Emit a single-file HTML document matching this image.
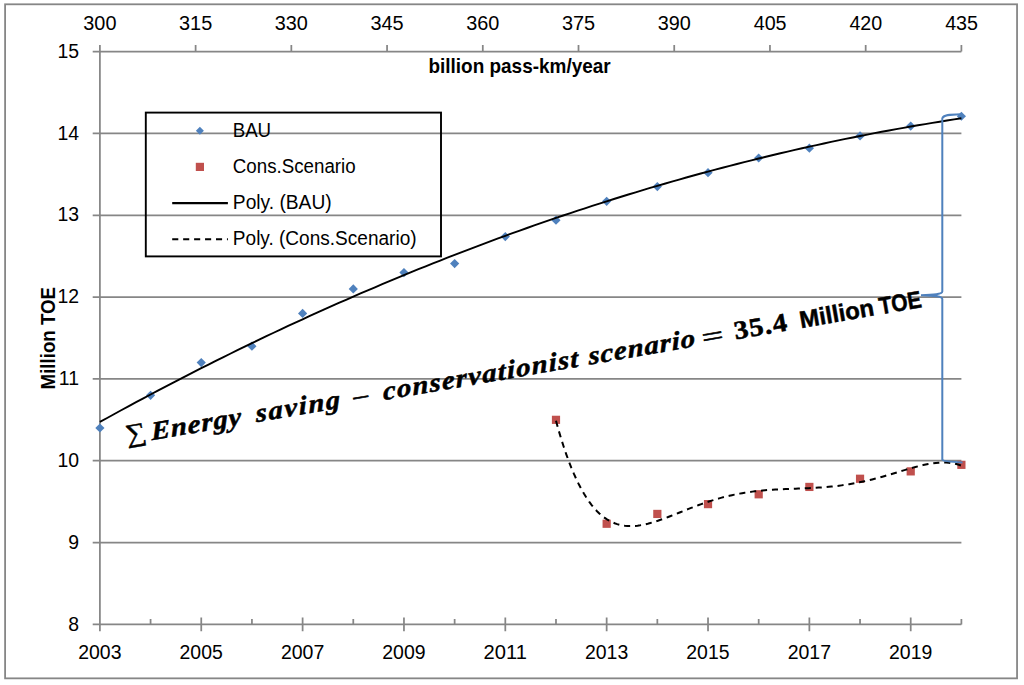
<!DOCTYPE html><html><head><meta charset="utf-8"><style>html,body{margin:0;padding:0;background:#fff;}svg{display:block;}.s{font-family:"Liberation Sans",sans-serif;}.f{font-family:"Liberation Serif",serif;font-weight:bold;font-style:italic;}.fb{font-family:"Liberation Serif",serif;font-weight:bold;}.r{font-family:"Liberation Serif",serif;}.b{font-family:"Liberation Sans",sans-serif;font-weight:bold;}</style></head><body>
<svg width="1024" height="685" viewBox="0 0 1024 685">
<rect x="0" y="0" width="1024" height="685" fill="#fff"/>
<rect x="5.1" y="4.3" width="1011.95" height="674.05" fill="none" stroke="#868686" stroke-width="1.8"/>
<path d="M92.70 624.40H961.40 M92.70 542.57H961.40 M92.70 460.74H961.40 M92.70 378.91H961.40 M92.70 297.09H961.40 M92.70 215.26H961.40 M92.70 133.43H961.40 M92.70 51.60H961.40 M99.90 45.00V631.20 M99.90 45.00V51.60 M195.62 45.00V51.60 M291.34 45.00V51.60 M387.07 45.00V51.60 M482.79 45.00V51.60 M578.51 45.00V51.60 M674.23 45.00V51.60 M769.96 45.00V51.60 M865.68 45.00V51.60 M961.40 45.00V51.60 M99.90 617.60V631.20 M150.58 618.90V624.40 M201.25 617.60V631.20 M251.93 618.90V624.40 M302.61 617.60V631.20 M353.28 618.90V624.40 M403.96 617.60V631.20 M454.64 618.90V624.40 M505.31 617.60V631.20 M555.99 618.90V624.40 M606.66 617.60V631.20 M657.34 618.90V624.40 M708.02 617.60V631.20 M758.69 618.90V624.40 M809.37 617.60V631.20 M860.05 618.90V624.40 M910.72 617.60V631.20 M961.40 618.90V624.40" stroke="#868686" stroke-width="1.75" fill="none"/>
<text class="s" x="83.34" y="30.00" font-size="19.4" textLength="33.13" lengthAdjust="spacingAndGlyphs">300</text>
<text class="s" x="179.06" y="30.00" font-size="19.4" textLength="33.19" lengthAdjust="spacingAndGlyphs">315</text>
<text class="s" x="274.79" y="30.00" font-size="19.4" textLength="33.13" lengthAdjust="spacingAndGlyphs">330</text>
<text class="s" x="370.51" y="30.00" font-size="19.4" textLength="33.19" lengthAdjust="spacingAndGlyphs">345</text>
<text class="s" x="466.23" y="30.00" font-size="19.4" textLength="33.13" lengthAdjust="spacingAndGlyphs">360</text>
<text class="s" x="561.95" y="30.00" font-size="19.4" textLength="33.19" lengthAdjust="spacingAndGlyphs">375</text>
<text class="s" x="657.68" y="30.00" font-size="19.4" textLength="33.13" lengthAdjust="spacingAndGlyphs">390</text>
<text class="s" x="753.70" y="30.00" font-size="19.4" textLength="32.88" lengthAdjust="spacingAndGlyphs">405</text>
<text class="s" x="849.43" y="30.00" font-size="19.4" textLength="32.82" lengthAdjust="spacingAndGlyphs">420</text>
<text class="s" x="945.15" y="30.00" font-size="19.4" textLength="32.88" lengthAdjust="spacingAndGlyphs">435</text>
<text class="s" x="78.22" y="658.80" font-size="19.4" textLength="43.23" lengthAdjust="spacingAndGlyphs">2003</text>
<text class="s" x="179.58" y="658.80" font-size="19.4" textLength="43.19" lengthAdjust="spacingAndGlyphs">2005</text>
<text class="s" x="280.93" y="658.80" font-size="19.4" textLength="43.36" lengthAdjust="spacingAndGlyphs">2007</text>
<text class="s" x="382.28" y="658.80" font-size="19.4" textLength="43.30" lengthAdjust="spacingAndGlyphs">2009</text>
<text class="s" x="483.63" y="658.80" font-size="19.4" textLength="43.33" lengthAdjust="spacingAndGlyphs">2011</text>
<text class="s" x="584.99" y="658.80" font-size="19.4" textLength="43.23" lengthAdjust="spacingAndGlyphs">2013</text>
<text class="s" x="686.34" y="658.80" font-size="19.4" textLength="43.19" lengthAdjust="spacingAndGlyphs">2015</text>
<text class="s" x="787.69" y="658.80" font-size="19.4" textLength="43.36" lengthAdjust="spacingAndGlyphs">2017</text>
<text class="s" x="889.04" y="658.80" font-size="19.4" textLength="43.30" lengthAdjust="spacingAndGlyphs">2019</text>
<text class="s" x="79.0" y="630.60" font-size="19.4" text-anchor="end">8</text>
<text class="s" x="79.0" y="548.77" font-size="19.4" text-anchor="end">9</text>
<text class="s" x="79.0" y="466.94" font-size="19.4" text-anchor="end">10</text>
<text class="s" x="79.0" y="385.11" font-size="19.4" text-anchor="end">11</text>
<text class="s" x="79.0" y="303.29" font-size="19.4" text-anchor="end">12</text>
<text class="s" x="79.0" y="221.46" font-size="19.4" text-anchor="end">13</text>
<text class="s" x="79.0" y="139.63" font-size="19.4" text-anchor="end">14</text>
<text class="s" x="79.0" y="57.80" font-size="19.4" text-anchor="end">15</text>
<text class="b" x="428.45" y="73.00" font-size="19.8" textLength="182.24" lengthAdjust="spacingAndGlyphs">billion pass-km/year</text>
<text class="b" transform="rotate(-90)" x="-389.45" y="55.0" font-size="19.8" textLength="102.47" lengthAdjust="spacingAndGlyphs">Million TOE</text>
<rect x="145.8" y="112.6" width="295.2" height="143.8" fill="none" stroke="#000" stroke-width="1.9"/>
<path d="M199.9 126.8L203.9 130.8L199.9 134.8L195.9 130.8Z" fill="#4F81BD"/>
<rect x="195.8" y="162.8" width="8.2" height="8.2" fill="#C0504D"/>
<path d="M172.2 203.1H227.9" stroke="#000" stroke-width="2.1"/>
<path d="M172.2 239.3H227.9" stroke="#000" stroke-width="2.1" stroke-dasharray="6.1 4.85"/>
<text class="s" x="232.66" y="137.00" font-size="19.4" textLength="38.48" lengthAdjust="spacingAndGlyphs">BAU</text>
<text class="s" x="232.85" y="173.00" font-size="19.4" textLength="122.84" lengthAdjust="spacingAndGlyphs">Cons.Scenario</text>
<text class="s" x="232.85" y="209.20" font-size="19.4" textLength="98.83" lengthAdjust="spacingAndGlyphs">Poly. (BAU)</text>
<text class="s" x="232.85" y="245.10" font-size="19.4" textLength="183.72" lengthAdjust="spacingAndGlyphs">Poly. (Cons.Scenario)</text>
<path d="M99.90 423.41L104.50 428.01L99.90 432.61L95.30 428.01Z" fill="#4F81BD"/>
<path d="M150.58 390.68L155.18 395.28L150.58 399.88L145.98 395.28Z" fill="#4F81BD"/>
<path d="M201.25 357.95L205.85 362.55L201.25 367.15L196.65 362.55Z" fill="#4F81BD"/>
<path d="M251.93 341.58L256.53 346.18L251.93 350.78L247.33 346.18Z" fill="#4F81BD"/>
<path d="M302.61 308.85L307.21 313.45L302.61 318.05L298.01 313.45Z" fill="#4F81BD"/>
<path d="M353.28 284.30L357.88 288.90L353.28 293.50L348.68 288.90Z" fill="#4F81BD"/>
<path d="M403.96 267.94L408.56 272.54L403.96 277.14L399.36 272.54Z" fill="#4F81BD"/>
<path d="M454.64 258.94L459.24 263.54L454.64 268.14L450.04 263.54Z" fill="#4F81BD"/>
<path d="M505.31 231.93L509.91 236.53L505.31 241.13L500.71 236.53Z" fill="#4F81BD"/>
<path d="M555.99 215.57L560.59 220.17L555.99 224.77L551.39 220.17Z" fill="#4F81BD"/>
<path d="M606.66 196.75L611.26 201.35L606.66 205.95L602.06 201.35Z" fill="#4F81BD"/>
<path d="M657.34 182.02L661.94 186.62L657.34 191.22L652.74 186.62Z" fill="#4F81BD"/>
<path d="M708.02 168.11L712.62 172.71L708.02 177.31L703.42 172.71Z" fill="#4F81BD"/>
<path d="M758.69 153.38L763.29 157.98L758.69 162.58L754.09 157.98Z" fill="#4F81BD"/>
<path d="M809.37 143.56L813.97 148.16L809.37 152.76L804.77 148.16Z" fill="#4F81BD"/>
<path d="M860.05 131.28L864.65 135.88L860.05 140.48L855.45 135.88Z" fill="#4F81BD"/>
<path d="M910.72 121.46L915.32 126.06L910.72 130.66L906.12 126.06Z" fill="#4F81BD"/>
<path d="M961.40 111.64L966.00 116.24L961.40 120.84L956.80 116.24Z" fill="#4F81BD"/>
<rect x="551.89" y="415.73" width="8.2" height="8.2" fill="#C0504D"/>
<rect x="602.56" y="519.65" width="8.2" height="8.2" fill="#C0504D"/>
<rect x="653.24" y="509.83" width="8.2" height="8.2" fill="#C0504D"/>
<rect x="703.92" y="500.01" width="8.2" height="8.2" fill="#C0504D"/>
<rect x="754.59" y="490.19" width="8.2" height="8.2" fill="#C0504D"/>
<rect x="805.27" y="482.83" width="8.2" height="8.2" fill="#C0504D"/>
<rect x="855.95" y="474.65" width="8.2" height="8.2" fill="#C0504D"/>
<rect x="906.62" y="467.28" width="8.2" height="8.2" fill="#C0504D"/>
<rect x="957.30" y="460.73" width="8.2" height="8.2" fill="#C0504D"/>
<polyline points="99.90,421.95 107.14,417.96 114.38,413.98 121.62,410.03 128.86,406.11 136.10,402.21 143.34,398.33 150.58,394.48 157.82,390.65 165.06,386.85 172.29,383.08 179.53,379.32 186.77,375.59 194.01,371.89 201.25,368.21 208.49,364.56 215.73,360.92 222.97,357.32 230.21,353.74 237.45,350.18 244.69,346.65 251.93,343.14 259.17,339.66 266.41,336.20 273.65,332.76 280.89,329.35 288.13,325.97 295.37,322.61 302.61,319.27 309.85,315.96 317.08,312.67 324.32,309.41 331.56,306.17 338.80,302.96 346.04,299.77 353.28,296.61 360.52,293.47 367.76,290.35 375.00,287.26 382.24,284.19 389.48,281.15 396.72,278.13 403.96,275.14 411.20,272.17 418.44,269.23 425.68,266.31 432.92,263.41 440.16,260.54 447.40,257.70 454.64,254.87 461.87,252.08 469.11,249.31 476.35,246.56 483.59,243.83 490.83,241.14 498.07,238.46 505.31,235.81 512.55,233.19 519.79,230.59 527.03,228.01 534.27,225.46 541.51,222.93 548.75,220.43 555.99,217.95 563.23,215.50 570.47,213.07 577.71,210.66 584.95,208.28 592.19,205.93 599.43,203.60 606.66,201.29 613.90,199.01 621.14,196.75 628.38,194.52 635.62,192.31 642.86,190.12 650.10,187.96 657.34,185.83 664.58,183.72 671.82,181.63 679.06,179.57 686.30,177.53 693.54,175.52 700.78,173.53 708.02,171.57 715.26,169.63 722.50,167.72 729.74,165.83 736.98,163.96 744.22,162.12 751.45,160.31 758.69,158.51 765.93,156.75 773.17,155.00 780.41,153.29 787.65,151.59 794.89,149.92 802.13,148.28 809.37,146.66 816.61,145.06 823.85,143.49 831.09,141.94 838.33,140.42 845.57,138.92 852.81,137.45 860.05,136.00 867.29,134.58 874.53,133.18 881.77,131.80 889.01,130.45 896.24,129.13 903.48,127.83 910.72,126.55 917.96,125.30 925.20,124.07 932.44,122.87 939.68,121.69 946.92,120.53 954.16,119.40 961.40,118.30" fill="none" stroke="#000" stroke-width="1.9"/>
<polyline points="555.99,420.85 558.54,429.97 561.09,438.54 563.64,446.56 566.19,454.07 568.74,461.09 571.29,467.63 573.84,473.71 576.39,479.35 578.94,484.58 581.49,489.41 584.04,493.85 586.59,497.93 589.14,501.66 591.68,505.06 594.23,508.15 596.78,510.93 599.33,513.43 601.88,515.66 604.43,517.63 606.98,519.36 609.53,520.86 612.08,522.15 614.63,523.23 617.18,524.11 619.73,524.82 622.28,525.36 624.83,525.75 627.38,525.98 629.93,526.08 632.48,526.05 635.03,525.90 637.58,525.65 640.13,525.29 642.68,524.85 645.23,524.32 647.78,523.71 650.33,523.04 652.88,522.31 655.43,521.52 657.98,520.69 660.53,519.81 663.08,518.90 665.63,517.96 668.18,516.99 670.73,516.00 673.28,515.00 675.83,513.99 678.38,512.97 680.93,511.95 683.48,510.94 686.03,509.92 688.58,508.92 691.13,507.93 693.68,506.95 696.23,505.98 698.77,505.04 701.32,504.11 703.87,503.21 706.42,502.34 708.97,501.49 711.52,500.66 714.07,499.87 716.62,499.10 719.17,498.37 721.72,497.66 724.27,496.99 726.82,496.35 729.37,495.74 731.92,495.16 734.47,494.61 737.02,494.10 739.57,493.61 742.12,493.15 744.67,492.73 747.22,492.33 749.77,491.96 752.32,491.62 754.87,491.31 757.42,491.01 759.97,490.75 762.52,490.50 765.07,490.28 767.62,490.07 770.17,489.89 772.72,489.72 775.27,489.57 777.82,489.42 780.37,489.30 782.92,489.18 785.47,489.07 788.02,488.96 790.57,488.86 793.12,488.77 795.67,488.67 798.22,488.58 800.77,488.48 803.31,488.38 805.86,488.27 808.41,488.16 810.96,488.04 813.51,487.91 816.06,487.76 818.61,487.61 821.16,487.44 823.71,487.25 826.26,487.04 828.81,486.82 831.36,486.57 833.91,486.31 836.46,486.02 839.01,485.71 841.56,485.38 844.11,485.02 846.66,484.64 849.21,484.23 851.76,483.80 854.31,483.34 856.86,482.86 859.41,482.35 861.96,481.81 864.51,481.25 867.06,480.66 869.61,480.05 872.16,479.42 874.71,478.77 877.26,478.09 879.81,477.40 882.36,476.69 884.91,475.96 887.46,475.22 890.01,474.47 892.56,473.71 895.11,472.94 897.66,472.17 900.21,471.40 902.76,470.63 905.31,469.87 907.86,469.12 910.40,468.38 912.95,467.66 915.50,466.97 918.05,466.30 920.60,465.67 923.15,465.08 925.70,464.53 928.25,464.04 930.80,463.60 933.35,463.23 935.90,462.92 938.45,462.70 941.00,462.56 943.55,462.52 946.10,462.58 948.65,462.75 951.20,463.04 953.75,463.46 956.30,464.02 958.85,464.73 961.40,465.60" fill="none" stroke="#000" stroke-width="2" stroke-dasharray="6.1 4.85"/>
<path d="M960.5 114.2C950 114.5 943 114.8 942.3 118.5V291.5C942.3 294 935 294.8 921 295.2C935 295.6 942.3 296.5 942.3 299V459.7C943 461.5 952 462 962.5 462.4" fill="none" stroke="#4F81BD" stroke-width="2"/>
<g transform="translate(151.6,440.3) rotate(-9.8)">
<text class="r" x="-24.82" y="-1.6" font-size="26" textLength="20.32" lengthAdjust="spacingAndGlyphs" stroke="#000" stroke-width="0.5">∑</text>
<text class="f" transform="scale(1.1,1) skewX(-6)" x="0.19" y="0" font-size="26" textLength="82.76" lengthAdjust="spacing" stroke="#000" stroke-width="0.55">Energy</text>
<text class="f" transform="scale(1.1,1) skewX(-6)" x="96.64" y="0" font-size="26" textLength="77.58" lengthAdjust="spacing" stroke="#000" stroke-width="0.55">saving</text>
<text class="r" x="204.40" y="2.0" font-size="26" textLength="18.20" lengthAdjust="spacingAndGlyphs" stroke="#000" stroke-width="0.6">−</text>
<text class="f" transform="scale(1.1,1) skewX(-6)" x="214.02" y="0" font-size="26" textLength="180.00" lengthAdjust="spacing" stroke="#000" stroke-width="0.55">conservationist</text>
<text class="f" transform="scale(1.1,1) skewX(-6)" x="403.48" y="0" font-size="26" textLength="98.08" lengthAdjust="spacing" stroke="#000" stroke-width="0.55">scenario</text>
<text class="r" x="559.68" y="1.5" font-size="26" textLength="21.65" lengthAdjust="spacingAndGlyphs" stroke="#000" stroke-width="0.6">=</text>
<text class="fb" transform="scale(1.1,1)" x="538.62" y="0" font-size="26" textLength="48.51" lengthAdjust="spacing" stroke="#000" stroke-width="0.55">35.4</text>
<text class="b" x="658.95" y="0" font-size="24" textLength="75.22" lengthAdjust="spacingAndGlyphs" stroke="#000" stroke-width="0.5">Million</text>
<text class="b" x="739.77" y="0" font-size="24" textLength="42.65" lengthAdjust="spacingAndGlyphs" stroke="#000" stroke-width="0.5">TOE</text>
</g>
</svg></body></html>
